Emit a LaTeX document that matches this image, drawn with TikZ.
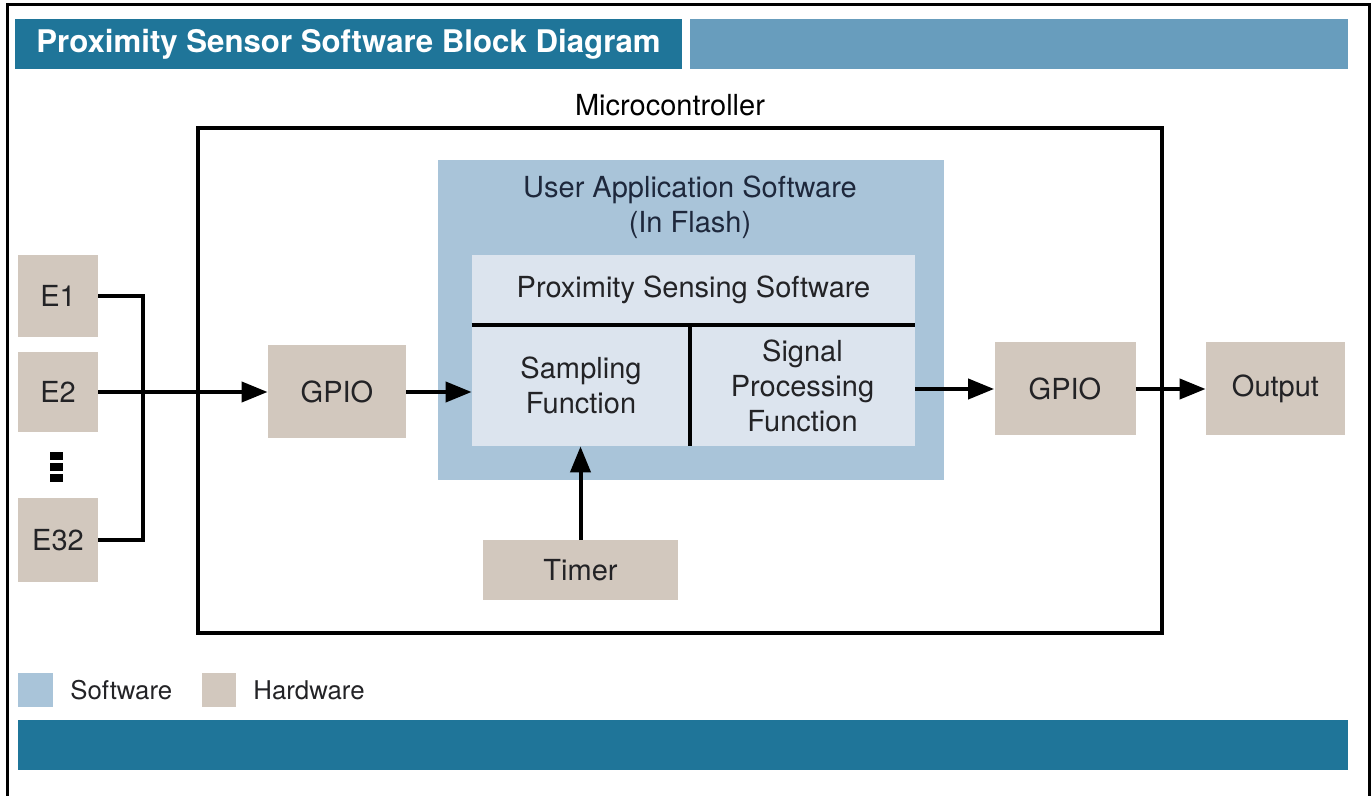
\documentclass[tikz,border=0pt]{standalone}
\usepackage{fontspec}
\setmainfont{TeX Gyre Heros}
\usetikzlibrary{arrows.meta, calc}
\definecolor{hdrteal}{RGB}{31,117,153}
\definecolor{hdrlight}{RGB}{104,157,189}
\definecolor{swblue}{RGB}{169,196,217}
\definecolor{swlight}{RGB}{220,228,238}
\definecolor{hwtan}{RGB}{210,200,190}
\definecolor{inktext}{RGB}{35,35,38}
\definecolor{apptext}{RGB}{30,40,60}

\begin{document}
\begin{tikzpicture}[x=0.5pt, y=-0.5pt, >={Triangle[length=13pt,width=10pt]},
	font=\fontsize{14.5}{17.5}\selectfont,
	hwbox/.style={fill=hwtan, text=inktext, inner sep=0pt},
	swcell/.style={fill=swlight, text=inktext, inner sep=0pt, align=center},
	wire/.style={line width=2pt},
	keylabel/.style={anchor=west, inner sep=0pt, text=inktext, font=\fontsize{12.9}{15}\selectfont}]
		
		\useasboundingbox (0,0) rectangle (1372,796);
		
		% ===== Frame and header bars =====
		\draw[line width=1.5pt] (7,796) -- (7,5) -- (1369,5) -- (1369,796);
		\node[fill=hdrteal, text=white, inner sep=0pt, minimum width=333.5pt, minimum height=25pt,
		font=\bfseries\fontsize{15.6}{18}\selectfont] (title) at (348.5,44)
		{Proximity Sensor Software Block Diagram};
		\fill[hdrlight] (690,19) rectangle (1348,69);
		
		% ===== Microcontroller =====
		\draw[wire] (198,128) rectangle (1162,633);
		\node (mcu) at (670,105) {Microcontroller};
		
		% software block with its cells
		\node[fill=swblue, inner sep=0pt, minimum width=253pt, minimum height=160pt] (app) at (691,320) {};
		\node[text=apptext, align=center] (applbl) at (690,207) {User Application Software\\(In Flash)};
		\node[swcell, minimum width=221.5pt, minimum height=35pt] (pss) at (693.5,290) {Proximity Sensing Software};
		\node[swcell, minimum width=109pt, minimum height=60.5pt] (samp) at (581,385.5) {Sampling\\Function};
		\node[swcell, minimum width=112.5pt, minimum height=60.5pt] (sig) at (802.5,385.5) {Signal\\Processing\\Function};
		\draw[wire] (pss.south west) -- (pss.south east);
		\draw[wire] (samp.north east) -- (samp.south east);
		
		% hardware blocks
		\node[hwbox, minimum width=40pt, minimum height=41pt] (e1) at (58,296) {E1};
		\node[hwbox, minimum width=40pt, minimum height=40pt] (e2) at (58,392) {E2};
		\node[hwbox, minimum width=40pt, minimum height=42pt] (e32) at (58,540) {E32};
		\foreach \k in {0,1,2}
		\fill (50,452+11*\k) rectangle ++(13,8);
		\node[hwbox, minimum width=69pt, minimum height=46.5pt] (gpioin) at (337,392) {GPIO};
		\node[hwbox, minimum width=70.5pt, minimum height=46.5pt] (gpioout) at (1065,389) {GPIO};
		\node[hwbox, minimum width=69.5pt, minimum height=46.5pt] (out) at (1275.5,389) {Output};
		\node[hwbox, minimum width=97.5pt, minimum height=30pt] (timer) at (580.5,570) {Timer};
		
		% ===== Connectors =====
		\coordinate (bus) at (143,296);
		\draw[wire] (e1.east) -- (bus) |- (e32.east);
		\draw[wire,->] (e2.east) -- (gpioin.west);
		\draw[wire,->] (gpioin.east) -- (gpioin.east -| samp.west);
		\draw[wire,->] (gpioout.west -| sig.east) -- (gpioout.west);
		\draw[wire,->] (gpioout.east) -- (out.west);
		\draw[wire,->] (timer.north) -- (timer.north |- samp.south);
		
		% ===== Legend and footer =====
		\node[fill=swblue, inner sep=0pt, minimum width=17.5pt, minimum height=17pt] (swkey) at (35.5,690) {};
		\node[keylabel] (swtext) at (70,690) {Software};
		\node[fill=hwtan, inner sep=0pt, minimum width=17pt, minimum height=17pt] (hwkey) at (219,690) {};
		\node[keylabel] (hwtext) at (253,690) {Hardware};
		\fill[hdrteal] (18,720) rectangle (1348,770);
		
	\end{tikzpicture}
\end{document}
